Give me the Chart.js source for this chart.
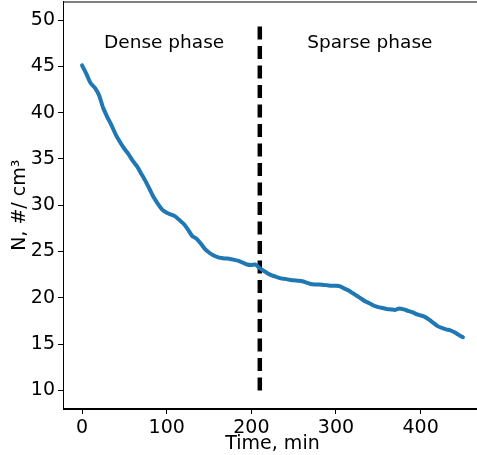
<!DOCTYPE html>
<html>
<head>
<meta charset="utf-8">
<script src="https://cdn.jsdelivr.net/npm/chart.js@4"></script>
<style>
  html,body{margin:0;padding:0;background:#fff;overflow:hidden;}
  #wrap{position:absolute;left:0;top:0;width:490px;height:455px;}
</style>
</head>
<body>
<div id="wrap"><canvas id="c" width="490" height="455"></canvas></div>
<script>
// ---- data ----
const timeMin=[0,5,10,15,20,25,30,35,40,45,50,55,60,65,70,75,80,85,90,95,
  100,105,110,115,120,125,130,135,140,145,150,155,160,165,170,175,180,185,190,195,
  200,205,210,215,220,225,230,235,240,245,250,255,260,265,270,275,280,285,290,295,
  300,305,310,315,320,325,330,335,340,345,350,355,360,365,370,375,380,385,390,395,
  400,405,410,415,420,425,430,435,440,445,450];
const density=[45.1,44.2,43.2,42.7,41.9,40.5,39.5,38.6,37.6,36.8,36.1,35.5,34.8,34.2,33.4,32.6,31.7,30.8,30.1,29.5,
  29.2,29.0,28.8,28.4,28.0,27.4,26.7,26.4,25.9,25.3,24.9,24.6,24.4,24.3,24.25,24.2,24.1,24.0,23.8,23.6,
  23.55,23.6,23.2,22.9,22.6,22.4,22.25,22.1,22.05,21.95,21.9,21.85,21.8,21.65,21.5,21.45,21.45,21.4,21.35,21.3,
  21.3,21.25,21.0,20.8,20.5,20.2,19.9,19.6,19.4,19.15,19.0,18.9,18.8,18.75,18.7,18.85,18.75,18.6,18.45,18.25,
  18.1,17.95,17.65,17.3,16.95,16.75,16.6,16.5,16.3,16.0,15.75];
const phaseSplit=210;          // time of the dashed divider
const splitRange=[10,50];      // N extent of the divider
const phaseNames=['Dense phase','Sparse phase'];
const phaseLabelAt=[[97,47],[340,47]]; // [time, N] baseline centre
const xTicks=[0,100,200,300,400];
const yTicks=[10,15,20,25,30,35,40,45,50];

const FONT='"DejaVu Sans", sans-serif';

// full box + phase captions
const decor={
  id:'decor',
  afterDatasetsDraw(chart){
    const {ctx,chartArea:a,scales:{x,y}}=chart;
    ctx.save();
    ctx.fillStyle='#000';
    ctx.font='18.5px '+FONT;
    ctx.textAlign='center';ctx.textBaseline='alphabetic';
    phaseNames.forEach((t,i)=>ctx.fillText(t,x.getPixelForValue(phaseLabelAt[i][0]),y.getPixelForValue(phaseLabelAt[i][1])));
    ctx.strokeStyle='#000';ctx.lineWidth=1;
    ctx.strokeRect(a.left+0.5,a.top+0.5,a.right-a.left-1,a.bottom-a.top-1);
    ctx.restore();
  }
};

new Chart(document.getElementById('c'),{
  type:'line',
  data:{datasets:[
    {data:timeMin.map((t,i)=>({x:t,y:density[i]})),borderColor:'#1f77b4',borderWidth:4,pointRadius:0,tension:0.2,borderCapStyle:'round'},
    {data:splitRange.map(v=>({x:phaseSplit,y:v})),borderColor:'#000',borderWidth:4.5,borderDash:[13,6.5],pointRadius:0}
  ]},
  options:{
    responsive:false,animation:false,devicePixelRatio:1,
    layout:{padding:{left:0,right:8,top:1.5,bottom:0}},
    plugins:{legend:{display:false},tooltip:{enabled:false}},
    scales:{
      x:{type:'linear',min:-22.5,max:472.5,
        afterBuildTicks:s=>{s.ticks=xTicks.map(v=>({value:v}));},
        afterFit:s=>{s.height=46;s.paddingLeft=0;s.paddingRight=0;},
        grid:{drawOnChartArea:false,drawTicks:true,tickLength:5,color:'#000',tickWidth:1},
        border:{display:true,color:'#000',width:1},
        ticks:{color:'#000',padding:3,autoSkip:false,maxRotation:0,font:{family:FONT,size:19}},
        title:{display:true,text:'Time, min',color:'#000',padding:{top:0,bottom:0},font:{family:FONT,size:19}}},
      y:{type:'linear',min:8,max:52,
        afterBuildTicks:s=>{s.ticks=yTicks.map(v=>({value:v}));},
        afterFit:s=>{s.width=63;s.paddingTop=0;s.paddingBottom=0;},
        grid:{drawOnChartArea:false,drawTicks:true,tickLength:5,color:'#000',tickWidth:1},
        border:{display:true,color:'#000',width:1},
        ticks:{color:'#000',padding:3,autoSkip:false,font:{family:FONT,size:19}},
        title:{display:true,text:'N, #/ cm³',color:'#000',padding:{top:9,bottom:0},font:{family:FONT,size:19}}}
    }
  },
  plugins:[decor]
});
</script>
</body>
</html>
